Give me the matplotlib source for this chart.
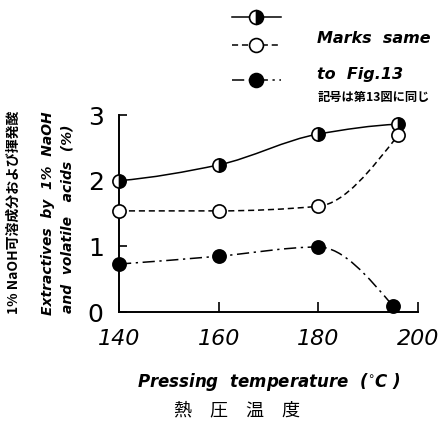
import numpy as np
import matplotlib
matplotlib.use("Agg")
import matplotlib.pyplot as plt
from matplotlib.path import Path
from matplotlib.patches import PathPatch
from matplotlib.lines import Line2D

# Extractives (%) versus pressing temperature
temps_half = [140, 160, 180, 196]
vals_half = [2.00, 2.24, 2.71, 2.86]

temps_open = [140, 160, 180, 196]
vals_open = [1.54, 1.54, 1.61, 2.69]

temps_solid = [140, 160, 180, 195]
vals_solid = [0.73, 0.85, 0.99, 0.09]

xticks = [140, 160, 180, 200]
yticks = [0, 1, 2, 3]

CJK = ["Noto Sans CJK JP", "DejaVu Sans"]


def pchip_slopes(x, y):
    """Shape-preserving (Fritsch-Carlson) tangents at each point."""
    h = np.diff(x)
    d = np.diff(y) / h
    m = np.zeros_like(y)
    for i in range(1, len(x) - 1):
        if d[i - 1] * d[i] <= 0:
            m[i] = 0.0
        else:
            w1 = 2 * h[i] + h[i - 1]
            w2 = h[i] + 2 * h[i - 1]
            m[i] = (w1 + w2) / (w1 / d[i - 1] + w2 / d[i])

    def end(h0, h1, d0, d1):
        s = ((2 * h0 + h1) * d0 - h0 * d1) / (h0 + h1)
        if np.sign(s) != np.sign(d0):
            return 0.0
        if np.sign(d0) != np.sign(d1) and abs(s) > abs(3 * d0):
            return 3 * d0
        return s

    m[0] = end(h[0], h[1], d[0], d[1])
    m[-1] = end(h[-1], h[-2], d[-1], d[-2])
    return m


def smooth_path(xs, ys):
    """Monotone cubic curve through the points as cubic Bezier segments."""
    x = np.asarray(xs, float)
    y = np.asarray(ys, float)
    m = pchip_slopes(x, y)
    verts = [(x[0], y[0])]
    codes = [Path.MOVETO]
    for i in range(len(x) - 1):
        h = x[i + 1] - x[i]
        verts += [(x[i] + h / 3, y[i] + m[i] * h / 3),
                  (x[i + 1] - h / 3, y[i + 1] - m[i + 1] * h / 3),
                  (x[i + 1], y[i + 1])]
        codes += [Path.CURVE4] * 3
    return Path(verts, codes)


fig = plt.figure(figsize=(4.48, 4.23), dpi=100)
ax = fig.add_axes([0.2656, 0.2624, 0.6674, 0.4657])

half_marker = dict(fillstyle="right", markerfacecolor="black", markerfacecoloralt="white")
open_marker = dict(markerfacecolor="white")
solid_marker = dict(markerfacecolor="black")

dash_open = (4, 2.5)
dash_solid = (8, 3, 1.5, 3)

series = [
    (temps_half, vals_half, None, half_marker),
    (temps_open, vals_open, dash_open, open_marker),
    (temps_solid, vals_solid, dash_solid, solid_marker),
]

lw = 1.1
for xs, ys, dashes, mk in series:
    patch = PathPatch(smooth_path(xs, ys), facecolor="none", edgecolor="black",
                      linewidth=lw)
    if dashes is not None:
        patch.set_linestyle((0, dashes))
    ax.add_patch(patch)
    ax.plot(xs, ys, linestyle="none", marker="o", markersize=9.5,
            markeredgecolor="black", markeredgewidth=1.2, clip_on=False, zorder=5, **mk)

ax.set_xlim(140, 200)
ax.set_ylim(0, 3)
ax.set_xticks(xticks)
ax.set_yticks(yticks)
ax.set_xticklabels([str(t) for t in xticks], fontsize=16, style="italic")
ax.set_yticklabels([str(t) for t in yticks], fontsize=18)
ax.tick_params(axis="x", direction="in", length=7, width=1.2, pad=12)
ax.tick_params(axis="y", direction="in", length=6, width=1.2, pad=11)
for s in ("top", "right"):
    ax.spines[s].set_visible(False)
for s in ("left", "bottom"):
    ax.spines[s].set_linewidth(1.4)

# axis titles
fig.text(0.600, 0.098, "Pressing  temperature  ($^{\\circ}$C )", fontsize=12, fontweight="bold",
         style="italic", ha="center", va="center")
fig.text(0.530, 0.030, "熱　圧　温　度", fontsize=13, family=CJK, ha="center", va="center")
fig.text(0.108, 0.495, "Extractives  by  1%  NaOH", fontsize=10, fontweight="bold",
         style="italic", rotation=90, ha="center", va="center")
fig.text(0.150, 0.483, "and  volatile   acids  (%)", fontsize=10, fontweight="bold",
         style="italic", rotation=90, ha="center", va="center")
fig.text(0.031, 0.497, "1% NaOH可溶成分および揮発酸", fontsize=10, family=CJK,
         fontweight="bold", rotation=90, ha="center", va="center")

# key
key_rows = [
    (0.960, None, half_marker),
    (0.894, dash_open, open_marker),
    (0.811, dash_solid, solid_marker),
]
for y, dashes, mk in key_rows:
    ln = Line2D([0.518, 0.627], [y, y], transform=fig.transFigure, color="black",
                linewidth=lw)
    if dashes is not None:
        ln.set_dashes(dashes)
    fig.add_artist(ln)
    fig.add_artist(Line2D([0.5725], [y], transform=fig.transFigure, linestyle="none",
                          marker="o", markersize=10, markeredgecolor="black",
                          markeredgewidth=1.2, **mk))

fig.text(0.708, 0.910, "Marks  same", fontsize=11.5, fontweight="bold", style="italic",
         ha="left", va="center")
fig.text(0.708, 0.825, "to  Fig.13", fontsize=11.5, fontweight="bold", style="italic",
         ha="left", va="center")
fig.text(0.708, 0.770, "記号は第13図に同じ", fontsize=8.8, family=CJK, fontweight="bold",
         ha="left", va="center")

fig.savefig("out.png", dpi=100)
